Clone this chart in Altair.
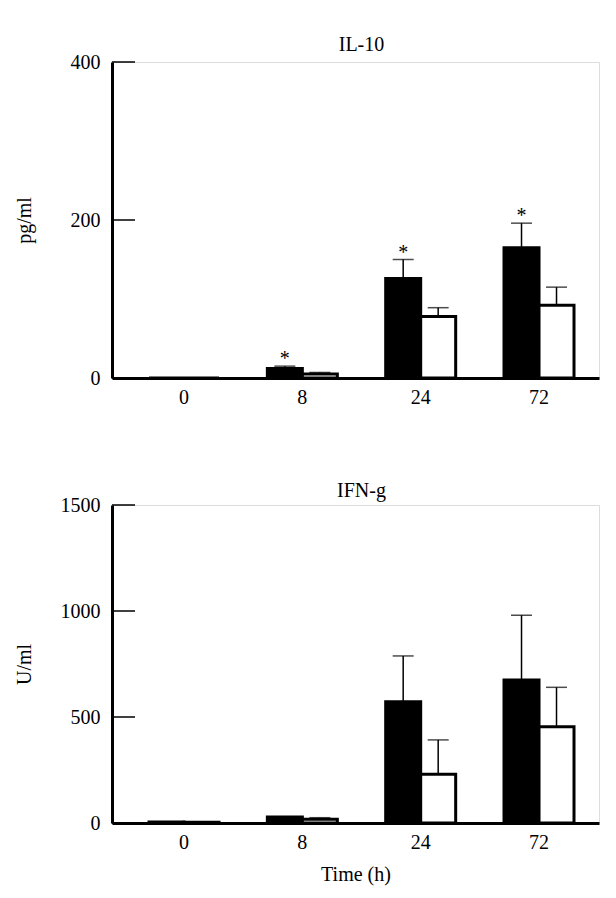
import altair as alt
import pandas as pd

times = ["0", "8", "24", "72"]

il10_title = "IL-10"
il10_ylabel = "pg/ml"
il10_ticks = [0, 200, 400]
il10_black = [0, 12, 126, 165]
il10_black_err = [0, 15, 150, 196]
il10_white = [0, 5, 78, 92]
il10_white_err = [0, 7, 89, 115]
il10_sig = [False, True, True, True]

ifng_title = "IFN-g"
ifng_ylabel = "U/ml"
ifng_ticks = [0, 500, 1000, 1500]
ifng_black = [5, 28, 572, 675]
ifng_black_err = [5, 28, 788, 980]
ifng_white = [4, 18, 230, 454]
ifng_white_err = [4, 25, 392, 640]
ifng_sig = [False, False, False, False]

FONT = "Liberation Serif"
W = 487


def panel(title, ylabel, ticks, black, black_err, white, white_err, sig,
          height, xtitle, tdy):
    rows = []
    for i, t in enumerate(times):
        rows.append({"time": t, "group": "a", "value": black[i],
                     "err": black_err[i], "sig": sig[i]})
        rows.append({"time": t, "group": "b", "value": white[i],
                     "err": white_err[i], "sig": False})
    df = pd.DataFrame(rows)
    tick_df = pd.DataFrame({"value": ticks})
    ymax = ticks[-1]

    x = alt.X("time:N", sort=times,
              scale=alt.Scale(paddingInner=0.4085, paddingOuter=0.262, align=0.597),
              axis=alt.Axis(title=xtitle if xtitle else None, labelAngle=0,
                            ticks=False, tickSize=0, domainWidth=3,
                            domainColor="black", labelFont=FONT,
                            labelFontSize=20, labelColor="black",
                            labelPadding=9, titleFont=FONT, titleFontSize=20,
                            titleFontWeight="normal", titleColor="black",
                            titlePadding=12))
    xo = alt.XOffset("group:N", sort=["a", "b"],
                     scale=alt.Scale(paddingInner=0, paddingOuter=0))
    yscale = alt.Scale(domain=[0, ymax], nice=False, zero=True)
    yaxis = alt.Axis(title=ylabel, values=ticks, format="d", ticks=False,
                     tickSize=0, grid=False, domainWidth=3, domainColor="black",
                     labelFont=FONT, labelFontSize=20, labelColor="black",
                     labelPadding=12, titleFont=FONT, titleFontSize=20,
                     titleFontWeight="normal", titleColor="black",
                     titleX=-88, titleBaseline="middle")
    y = alt.Y("value:Q", scale=yscale, axis=yaxis)

    bars = alt.Chart(df).mark_bar(stroke="black", strokeWidth=3).encode(
        x=x, xOffset=xo, y=y,
        color=alt.Color("group:N", scale=alt.Scale(domain=["a", "b"],
                        range=["black", "white"]), legend=None),
    )
    err = alt.Chart(df).transform_filter("datum.err > datum.value").mark_rule(
        color="black", strokeWidth=1.5).encode(
        x=x, xOffset=xo, y="value:Q", y2="err:Q")
    caps = alt.Chart(df).transform_filter("datum.err > datum.value").mark_tick(
        color="black", thickness=1.5, size=21, orient="horizontal").encode(
        x=x, xOffset=xo, y="err:Q")
    stars = alt.Chart(df).transform_filter("datum.sig").mark_text(
        text="*", font=FONT, fontSize=20, color="black",
        baseline="alphabetic", dy=-1).encode(
        x=x, xOffset=xo, y="err:Q")
    inner = alt.Chart(tick_df).mark_rule(color="black", strokeWidth=1.5).encode(
        y="value:Q", x=alt.value(0), x2=alt.value(23))

    return alt.layer(bars, err, caps, stars, inner).properties(
        width=W, height=height,
        title=alt.TitleParams(title, font=FONT, fontSize=20,
                              fontWeight="normal", color="black",
                              anchor="middle", offset=2, dy=tdy, dx=6,
                              baseline="alphabetic"),
    )


top = panel(il10_title, il10_ylabel, il10_ticks, il10_black, il10_black_err,
            il10_white, il10_white_err, il10_sig, 316, None, 21)
bottom = panel(ifng_title, ifng_ylabel, ifng_ticks, ifng_black, ifng_black_err,
               ifng_white, ifng_white_err, ifng_sig, 318, "Time (h)", 24)

chart = alt.vconcat(top, bottom, spacing=72).properties(
    padding={"left": 5, "top": 26, "right": 5, "bottom": 5}
).configure_view(stroke=None).configure(background="white")

chart.save("out.html", embed_options={"renderer": "svg", "actions": False})
